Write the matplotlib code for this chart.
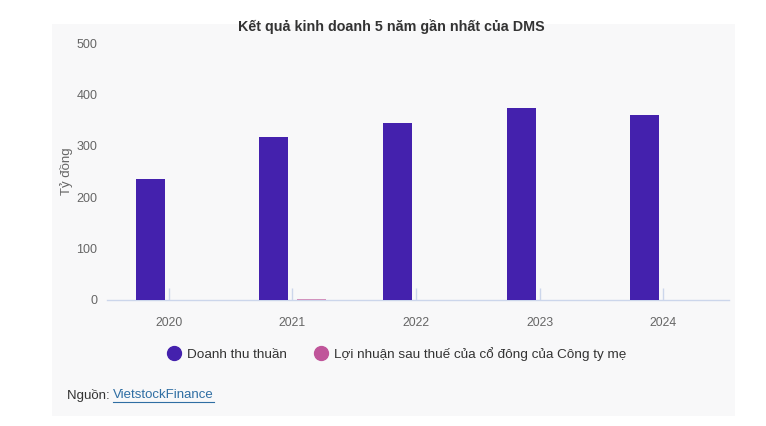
import numpy as np
import matplotlib
matplotlib.use('Agg')
import matplotlib.pyplot as plt
from matplotlib.lines import Line2D
from matplotlib.patches import Rectangle

plt.rcParams['font.family'] = ['Liberation Sans', 'DejaVu Sans']

# data (ty dong)
years = ['2020', '2021', '2022', '2023', '2024']
revenue = [236, 318, 345, 374, 359]
profit = [0.3, 2.5, 0.3, 0.3, 0.3]

title = 'Kết quả kinh doanh 5 năm gần nhất của DMS'
series_names = ['Doanh thu thuần', 'Lợi nhuận sau thuế của cổ đông của Công ty mẹ']
colors = ['#4421ad', '#c0559a']
y_ticks = [0, 100, 200, 300, 400, 500]

W, H = 766, 426
fig = plt.figure(figsize=(W / 100, H / 100), dpi=100)

# light panel behind the chart
panel = Rectangle((52 / W, 1 - 416 / H), (735 - 52) / W, (416 - 24) / H,
                  transform=fig.transFigure, facecolor='#f8f8f9',
                  edgecolor='none', zorder=-10)
fig.patches.append(panel)

ax = fig.add_axes([107 / W, 1 - 300 / H, (729 - 107) / W, (300 - 43) / H])
ax.set_facecolor('none')
ax.set_zorder(2)

x = np.arange(len(years))
bw = 0.235
ax.bar(x - 0.15, revenue, width=bw, color=colors[0], linewidth=0, zorder=3)
ax.bar(x + 0.15, profit, width=bw, color=colors[1], alpha=0.6, linewidth=0, zorder=3)

ax.set_xlim(-0.5, 4.53)
ax.set_ylim(0, 500)
ax.set_yticks(y_ticks)
ax.set_xticks(x)
ax.set_xticklabels(years)

for s in ['top', 'right', 'left']:
    ax.spines[s].set_visible(False)
ax.spines['bottom'].set_color('#ccd6eb')
ax.spines['bottom'].set_linewidth(1)
ax.spines['bottom'].set_zorder(1)

ax.tick_params(axis='x', direction='in', length=9, width=1, color='#ccd6eb',
               labelsize=8.8, labelcolor='#666666', pad=12)
ax.tick_params(axis='y', length=0, labelsize=9, labelcolor='#666666', pad=7)
ax.set_ylabel('Tỷ đồng', fontsize=9.5, color='#666666', labelpad=2.5)

fig.text(391 / W, 1 - 27 / H, title, ha='center', va='center',
         fontsize=10.3, fontweight='bold', color='#333333')

handles = [Line2D([], [], marker='o', linestyle='none', markersize=10,
                  markerfacecolor=c, markeredgecolor=c) for c in colors]
fig.legend(handles, series_names, loc='center', bbox_to_anchor=(396 / W, 1 - 354 / H),
           ncol=2, frameon=False, fontsize=9.7, labelcolor='#333333',
           handletextpad=0.4, columnspacing=1.9, handlelength=1.2)

# source line
t1 = fig.text(67 / W, 1 - 395 / H, 'Nguồn: ', ha='left', va='center',
              fontsize=9.5, color='#333333')
fig.canvas.draw()
r = fig.canvas.get_renderer()
bb = t1.get_window_extent(r)
t2 = fig.text(bb.x1 / W, 1 - 395 / H, 'VietstockFinance', ha='left', va='center',
              fontsize=9.5, color='#2f6ea3')
bb2 = t2.get_window_extent(r)
fig.add_artist(Line2D([bb2.x0 / W, bb2.x1 / W], [(bb2.y0 - 1) / H] * 2,
                      transform=fig.transFigure, color='#2f6ea3', linewidth=0.8))

fig.savefig('out.png', dpi=100)
